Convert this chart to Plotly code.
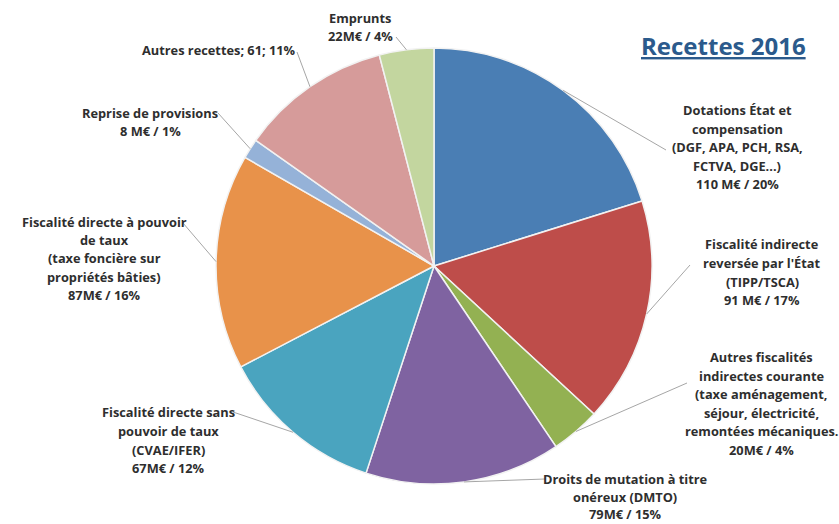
import math
import plotly.graph_objects as go

# ---- data ----
categories = [
    "Dotations État et compensation",
    "Fiscalité indirecte reversée par l'État",
    "Autres fiscalités indirectes courante",
    "Droits de mutation à titre onéreux (DMTO)",
    "Fiscalité directe sans pouvoir de taux",
    "Fiscalité directe à pouvoir de taux",
    "Reprise de provisions",
    "Autres recettes",
    "Emprunts",
]
values = [110, 91, 20, 79, 67, 87, 8, 61, 22]
label_lines = [
    ["Dotations État et", "compensation", "(DGF, APA, PCH, RSA,", "FCTVA, DGE...)", "110 M€ / 20%"],
    ["Fiscalité indirecte", "reversée par l'État", "(TIPP/TSCA)", "91 M€ / 17%"],
    ["Autres fiscalités", "indirectes courante", "(taxe aménagement,", "séjour, électricité,",
     "remontées mécaniques.", "20M€ / 4%"],
    ["Droits de mutation à titre", "onéreux (DMTO)", "79M€ / 15%"],
    ["Fiscalité directe sans", "pouvoir de taux", "(CVAE/IFER)", "67M€ / 12%"],
    ["Fiscalité directe à pouvoir", "de taux", "(taxe foncière sur", "propriétés bâties)", "87M€ / 16%"],
    ["Reprise de provisions", "8 M€ / 1%"],
    ["Autres recettes; 61; 11%"],
    ["Emprunts", "22M€ / 4%"],
]
title_text = "Recettes 2016"

# ---- styles / layout ----
colors = ["#4A7EB4", "#BE4D4A", "#93B152", "#7F63A1", "#4AA4BF",
          "#E8924A", "#95B2D8", "#D69B9A", "#C3D69F"]
W, H = 839, 524
CX, CY, R = 434, 266, 218
# label placement: (center x, first line y, line spacing) in pixels
label_pos = [
    (737, 110, 18.6),
    (762, 244, 18.8),
    (761, 357, 18.6),
    (625, 479, 17.6),
    (168, 412, 18.8),
    (104, 222, 18.2),
    (150, 113, 18.0),
    (219, 50, 18.0),
    (360, 18, 18.0),
]
# leader line anchors near labels (pixels)
anchors = [
    (666, 150), (690, 265), (687, 383), (545, 479), (233, 412),
    (183, 223), (218, 113), (297, 52), (396, 37),
]


def px(x):
    return x / W


def py(y):
    return 1 - y / H


fig = go.Figure(go.Pie(
    labels=categories, values=values, sort=False, direction="clockwise",
    rotation=0, textinfo="none", hoverinfo="label+value+percent",
    marker=dict(colors=colors, line=dict(color="#F2F2F2", width=1.5)),
    domain=dict(x=[px(CX - R), px(CX + R)], y=[py(CY + R), py(CY - R)]),
    showlegend=False,
))

total = sum(values)
cum = 0
shapes = []
for i, v in enumerate(values):
    mid = (cum + v / 2) / total * 2 * math.pi
    cum += v
    ex = CX + R * math.sin(mid)
    ey = CY - R * math.cos(mid)
    ax, ay = anchors[i]
    shapes.append(dict(type="line", xref="paper", yref="paper",
                       x0=px(ex), y0=py(ey), x1=px(ax), y1=py(ay),
                       line=dict(color="#A6A6A6", width=1)))

annotations = []
for lines, (cx, y0, dy) in zip(label_lines, label_pos):
    for j, t in enumerate(lines):
        annotations.append(dict(
            x=px(cx), y=py(y0 + j * dy), xref="paper", yref="paper",
            text=f"<b>{t}</b>", showarrow=False, xanchor="center", yanchor="middle",
            borderpad=0,
            font=dict(family="Open Sans", size=12.8, color="#2E2E2E"),
        ))

annotations.append(dict(
    x=px(723), y=py(45), xref="paper", yref="paper",
    text=f"<b><u>{title_text}</u></b>", showarrow=False,
    xanchor="center", yanchor="middle",
    font=dict(family="Open Sans", size=24, color="#2B5A8C"),
))

fig.update_layout(
    width=W, height=H, margin=dict(l=0, r=0, t=0, b=0),
    paper_bgcolor="white", plot_bgcolor="white",
    shapes=shapes, annotations=annotations,
)

fig.write_html(
    "out.html",
    config={"displayModeBar": False},
    post_script="document.body.style.margin='0px';document.body.style.overflow='hidden';",
)
